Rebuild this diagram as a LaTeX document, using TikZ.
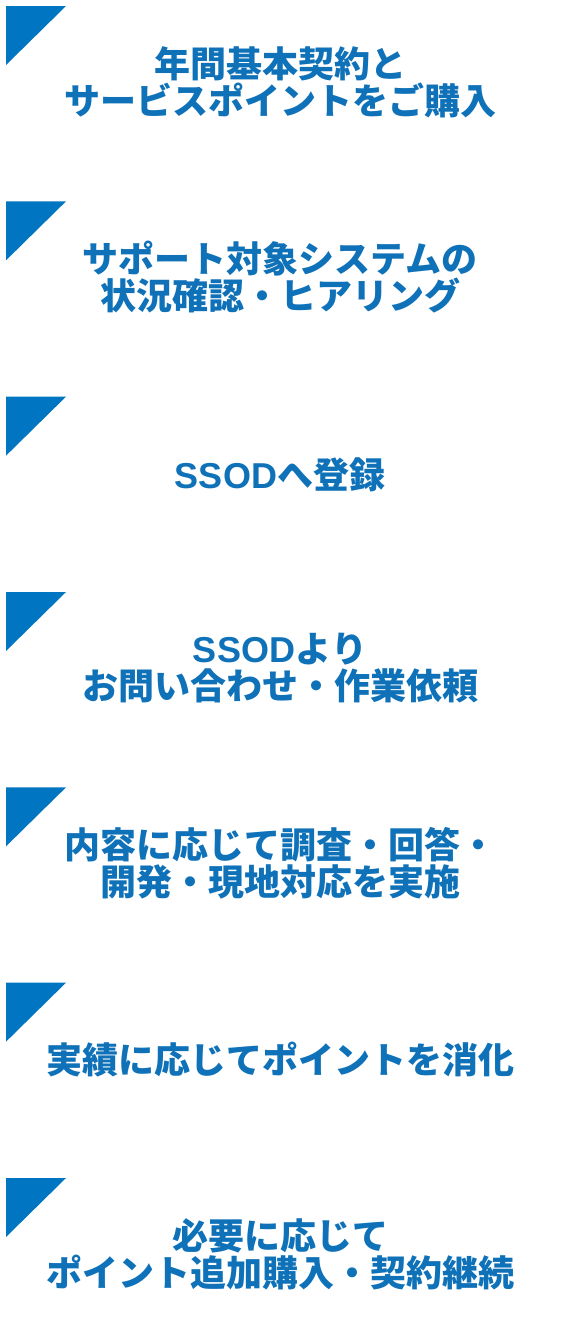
\documentclass[tikz,border=0pt]{standalone}
\usepackage{fontspec}
\newfontfamily\jp{Noto Sans CJK JP}
\newfontfamily\lat{Liberation Sans}[LetterSpace=1]
\definecolor{triblue}{HTML}{0075C1}
\definecolor{txtblue}{HTML}{0F72B9}
\tikzset{
  tri/.style={fill=triblue},
  steptext/.style={text=txtblue, font=\jp\bfseries\fontsize{36}{37}\selectfont, align=center, inner sep=0pt, anchor=center}
}
\newcommand{\ssod}{{\lat\bfseries SSOD}}
\begin{document}
\begin{tikzpicture}[x=1pt,y=1pt]
\useasboundingbox[fill=white] (0,0) rectangle (560,-1336);
% triangles
\foreach \t in {6,201.33,396.67,592,787.33,982.67,1178}{
  \fill[tri] (6,-\t) -- (66,-\t) -- (6,-\t-59) -- cycle;
}
\node[steptext] (s1) at (280,-82) {年間基本契約と\\サービスポイントをご購入};
\node[steptext] (s2) at (280,-277.5) {サポート対象システムの\\状況確認・ヒアリング};
\node[steptext] (s3) at (280,-474.5) {\ssod へ登録};
\node[steptext] (s4) at (280,-668.5) {\ssod より\\お問い合わせ・作業依頼};
\node[steptext] (s5) at (280,-863.5) {内容に応じて調査・回答・\\開発・現地対応を実施};
\node[steptext] (s6) at (280,-1060) {実績に応じてポイントを消化};
\node[steptext] (s7) at (280,-1254.5) {必要に応じて\\ポイント追加購入・契約継続};
\end{tikzpicture}
\end{document}
